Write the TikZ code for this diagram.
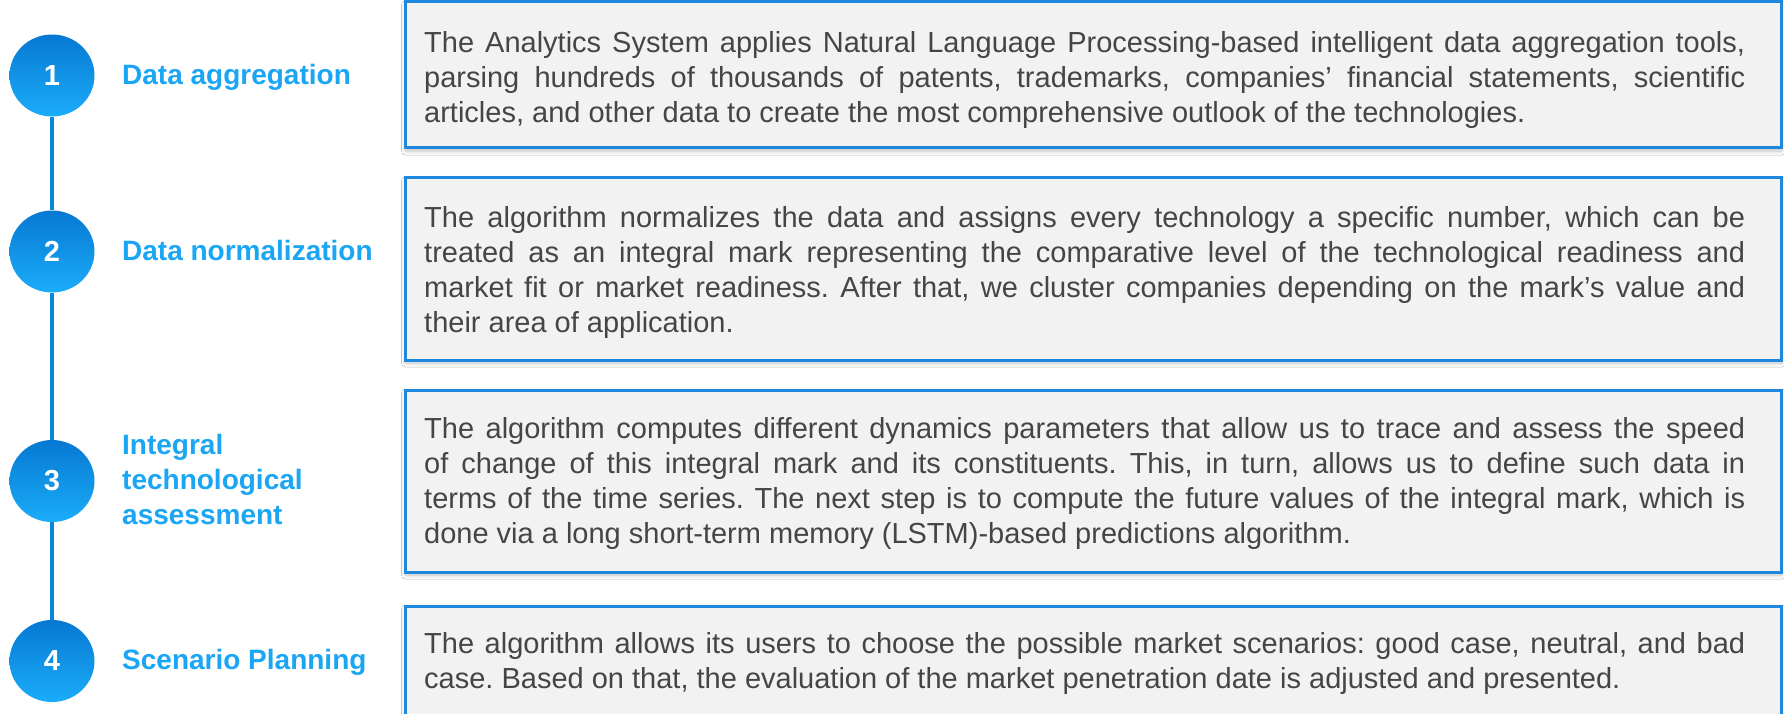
\documentclass[tikz,border=0pt]{standalone}
\usepackage{fontspec}
\setmainfont{Liberation Sans}
\usetikzlibrary{shadows.blur,shapes.geometric}
\definecolor{boxblue}{HTML}{1E88E0}
\definecolor{labelblue}{HTML}{1AA6F4}
\definecolor{linecol}{HTML}{0B86D8}
\definecolor{circtop}{HTML}{0679D2}
\definecolor{circbot}{HTML}{1BACF9}
\definecolor{boxfill}{HTML}{F2F2F2}
\definecolor{txt}{HTML}{454545}
\newcommand{\descsetup}{\fontsize{29}{35}\selectfont\frenchspacing\hyphenpenalty=10000\relax\tolerance=9999\relax\hbadness=10000\relax}
\begin{document}
\begin{tikzpicture}[x=1pt,y=-1pt,
  stepcircle/.style={ellipse, minimum width=85pt, minimum height=82pt, inner sep=0pt,
    top color=circtop, bottom color=circbot, draw=none, text=white,
    font=\bfseries\fontsize{29}{34}\selectfont},
  spine/.style={draw=linecol, line width=4pt},
  steplabel/.style={text=labelblue, inner sep=0pt, align=left,
    font=\bfseries\fontsize{28}{35}\selectfont},
  descbox/.style={draw=boxblue, line width=3pt, fill=boxfill, minimum width=1376pt, inner sep=0pt,
    blur shadow={shadow xshift=0.5pt, shadow yshift=-3pt, shadow blur radius=4pt, shadow opacity=25}},
  desc/.style={text=txt, text width=1321pt, align=justify, inner sep=0pt, anchor=north west,
    font=\descsetup}
]
\clip (0,0) rectangle (1784,714);
\fill[white] (0,0) rectangle (1784,714);

% description boxes
\node[descbox, minimum height=146pt] (b1) at (1093,75) {};
\node[descbox, minimum height=182pt] (b2) at (1093,269) {};
\node[descbox, minimum height=182pt] (b3) at (1093,481) {};
\node[descbox, minimum height=134pt] (b4) at (1093,673) {};

\node[desc] (t1) at (424,31) {The Analytics System applies Natural Language Processing-based intelligent data aggregation tools,\linebreak parsing hundreds of thousands of patents, trademarks, companies’ financial statements, scientific\linebreak articles, and other data to create the most comprehensive outlook of the technologies.};
\node[desc] (t2) at (424,206) {The algorithm normalizes the data and assigns every technology a specific number, which can be\linebreak treated as an integral mark representing the comparative level of the technological readiness and\linebreak market fit or market readiness. After that, we cluster companies depending on the mark’s value and\linebreak their area of application.};
\node[desc] (t3) at (424,417) {The algorithm computes different dynamics parameters that allow us to trace and assess the speed\linebreak of change of this integral mark and its constituents. This, in turn, allows us to define such data in\linebreak terms of the time series. The next step is to compute the future values of the integral mark, which is\linebreak done via a long short-term memory (LSTM)-based predictions algorithm.};
\node[desc] (t4) at (424,632) {The algorithm allows its users to choose the possible market scenarios: good case, neutral, and bad\linebreak case. Based on that, the evaluation of the market penetration date is adjusted and presented.};

% step circles
\node[stepcircle] (c1) at (52,75.5) {1};
\node[stepcircle] (c2) at (52,251.5) {2};
\node[stepcircle] (c3) at (52,481) {3};
\node[stepcircle] (c4) at (52,661) {4};
\draw[spine] (c1) -- (c2);
\draw[spine] (c2) -- (c3);
\draw[spine] (c3) -- (c4);

% step labels
\node[steplabel, anchor=base west] (l1) at (122,85) {Data aggregation};
\node[steplabel, anchor=base west] (l2) at (122,260) {Data normalization};
\node[steplabel, anchor=west] (l3) at (122,479) {Integral\\technological\\assessment};
\node[steplabel, anchor=base west] (l4) at (122,669) {Scenario Planning};
\end{tikzpicture}
\end{document}
